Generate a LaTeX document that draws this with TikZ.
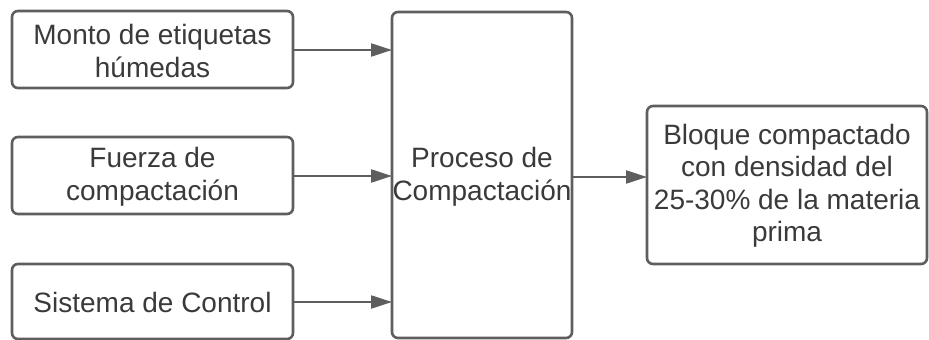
\documentclass[tikz,border=0pt]{standalone}
\usepackage{fontspec}
\setmainfont{Liberation Sans}
\usetikzlibrary{arrows.meta}
\definecolor{edge}{HTML}{5E5E5E}
\definecolor{ink}{HTML}{3A3A3A}
\begin{document}
\begin{tikzpicture}[x=1pt,y=-1pt,
  blockbox/.style={draw=edge,line width=2.6pt,rounded corners=6pt,fill=white},
  label/.style={text=ink,align=center,inner sep=0pt,font=\fontsize{28}{32.5}\selectfont},
  flow/.style={draw=edge,line width=2.2pt,-{Triangle[length=21pt,width=13pt]}}]
\useasboundingbox (0,0) rectangle (929,340);
% input blocks
\draw[blockbox] (12,11) rectangle (293,88);
\node[label] (monto) at (152.5,51) {Monto de etiquetas\\húmedas};
\draw[blockbox] (12,137) rectangle (293,214);
\node[label] (fuerza) at (152.5,177) {Fuerza de\\compactación};
\draw[blockbox] (12,264) rectangle (293,339);
\node[label] (control) at (152.5,302) {Sistema de Control};
% process block
\draw[blockbox] (392,12) rectangle (572,338);
\node[label] (proceso) at (482,177) {Proceso de\\Compactación};
% output block
\draw[blockbox] (647,106) rectangle (927,264);
\node[label] (bloque) at (787,186) {Bloque compactado\\con densidad del\\25-30\% de la materia\\prima};
% anchor points on the block edges
\coordinate (m1) at (293,50);  \coordinate (p1) at (392,50);
\coordinate (m2) at (293,176); \coordinate (p2) at (392,176);
\coordinate (m3) at (293,302); \coordinate (p3) at (392,302);
\coordinate (po) at (572,177); \coordinate (bi) at (647,177);
\draw[flow] (m1) -- (p1);
\draw[flow] (m2) -- (p2);
\draw[flow] (m3) -- (p3);
\draw[flow] (po) -- (bi);
\end{tikzpicture}
\end{document}
